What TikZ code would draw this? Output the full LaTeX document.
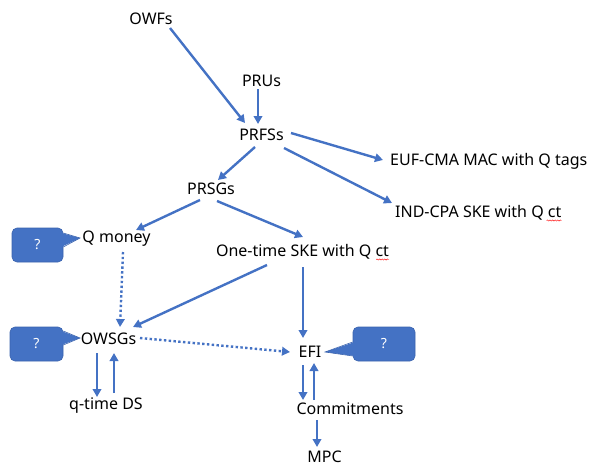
\documentclass[tikz,border=0pt]{standalone}
\usepackage{fontspec}
\setmainfont{Noto Sans}
\usetikzlibrary{arrows.meta,decorations.pathmorphing}
\definecolor{ln}{HTML}{4472C4}
\definecolor{bd}{HTML}{3A63AE}
\begin{document}
\begin{tikzpicture}[x=1pt,y=-1pt,
  lbl/.style={font=\fontsize{16}{19}\selectfont, inner sep=0pt, text height=11.4pt, text depth=0pt},
  arr/.style={draw=ln, line width=2.4pt, -{Triangle[length=8pt,width=8.5pt]}},
  dotarr/.style={arr, dash pattern=on 2.4pt off 2.4pt},
  qbox/.style={fill=ln, draw=bd, line width=0.6pt, rounded corners=5pt, text=white,
    font=\fontsize{14}{16}\selectfont, inner sep=0pt},
  ptrfill/.style={fill=ln},
  ptrline/.style={draw=bd, line width=0.6pt},
  spell/.style={draw=red, line width=0.4pt, decorate, decoration={snake, amplitude=0.6pt, segment length=2.6pt}}]
\useasboundingbox (0,0) rectangle (601,466);

% labels
\node[lbl] (owf)  at (151,18.5)  {OWFs};
\node[lbl] (pru)  at (261.5,80.5) {PRUs};
\node[lbl] (prfs) at (261.5,134.5) {PRFSs};
\node[lbl, anchor=west] (euf) at (390,159.5) {EUF-CMA MAC with Q tags};
\node[lbl, anchor=west] (ind) at (395,212) {IND-CPA SKE with Q ct};
\node[lbl] (prsg) at (211,189) {PRSGs};
\node[lbl] (qm)   at (116.5,237) {Q money};
\node[lbl] (ots)  at (302.5,251) {One-time SKE with Q ct};
\node[lbl] (owsg) at (108.5,338.5) {OWSGs};
\node[lbl] (qds)  at (106,403.5) {q-time DS};
\node[lbl] (efi)  at (310,351.5) {EFI};
\node[lbl] (com)  at (350,408.5) {Commitments};
\node[lbl] (mpc)  at (324.5,456.5) {MPC};

% spell-check marks
\path[spell] ([shift={(-15,8.5)}]ind.east) -- ([shift={(0,8.5)}]ind.east);
\path[spell] ([shift={(-13,8.5)}]ots.east) -- ([shift={(0,8.5)}]ots.east);

% arrows
\draw[arr] ([shift={(19,9.5)}]owf.center) -- ([shift={(-16.5,-11.5)}]prfs.center);
\draw[arr] ([shift={(-3.5,8.5)}]pru.center) -- ([shift={(-3.5,-10.5)}]prfs.center);
\draw[arr] ([shift={(29.5,-1.5)}]prfs.center) -- ([shift={(-7,0.5)}]euf.west);
\draw[arr] ([shift={(22.5,13.5)}]prfs.center) -- ([shift={(-3,-9)}]ind.west);
\draw[arr] ([shift={(-6.5,12.5)}]prfs.center) -- ([shift={(7,-9)}]prsg.center);
\draw[arr] ([shift={(-11,11)}]prsg.center) -- ([shift={(19.5,-7)}]qm.center);
\draw[arr] ([shift={(6,12)}]prsg.center) -- ([shift={(0.5,-14)}]ots.center);
\draw[dotarr] ([shift={(6.5,15)}]qm.center) -- ([shift={(11.5,-11.5)}]owsg.center);
\draw[arr] ([shift={(-35.5,14)}]ots.center) -- ([shift={(24.5,-11.5)}]owsg.center);
\draw[arr] ([shift={(0.5,16)}]ots.center) -- ([shift={(-7,-13.5)}]efi.center);
\draw[dotarr] ([shift={(31.5,-0.5)}]owsg.center) -- ([shift={(-20,0.5)}]efi.center);
\draw[arr] ([shift={(-11.5,14.5)}]owsg.center) -- ([shift={(-9,-6.5)}]qds.center);
\draw[arr] ([shift={(8,-10.5)}]qds.center) -- ([shift={(5.5,14.5)}]owsg.center);
\draw[arr] ([shift={(-7,13.5)}]efi.center) -- ([shift={(-47,-8.5)}]com.center);
\draw[arr] ([shift={(-36,-8.5)}]com.center) -- ([shift={(4,11.5)}]efi.center);
\draw[arr] ([shift={(-33,11.5)}]com.center) -- ([shift={(-7.5,-9.5)}]mpc.center);

% callouts
\node[qbox, minimum width=51pt, minimum height=34pt] (c1) at (37.5,245) {?};
\node[qbox, minimum width=53pt, minimum height=34pt] (c2) at (36.5,344) {?};
\node[qbox, minimum width=62pt, minimum height=34pt] (c3) at (384,344) {?};

\fill[ptrfill] ([shift={(-2,-12)}]c1.east) -- ([shift={(-36.5,1)}]qm.center) -- ([shift={(-2,2)}]c1.east) -- cycle;
\draw[ptrline] ([shift={(0,-12)}]c1.east) -- ([shift={(-36.5,1)}]qm.center) -- ([shift={(0,2)}]c1.east);

\fill[ptrfill] ([shift={(-2,-13)}]c2.east) -- ([shift={(-28.5,-0.5)}]owsg.center) -- ([shift={(-2,1)}]c2.east) -- cycle;
\draw[ptrline] ([shift={(0,-13)}]c2.east) -- ([shift={(-28.5,-0.5)}]owsg.center) -- ([shift={(0,1)}]c2.east);

\fill[ptrfill] ([shift={(2,-2)}]c3.west) -- ([shift={(15,0.5)}]efi.center) -- ([shift={(2,12)}]c3.west) -- cycle;
\draw[ptrline] ([shift={(0,-2)}]c3.west) -- ([shift={(15,0.5)}]efi.center) -- ([shift={(0,12)}]c3.west);
\end{tikzpicture}
\end{document}
